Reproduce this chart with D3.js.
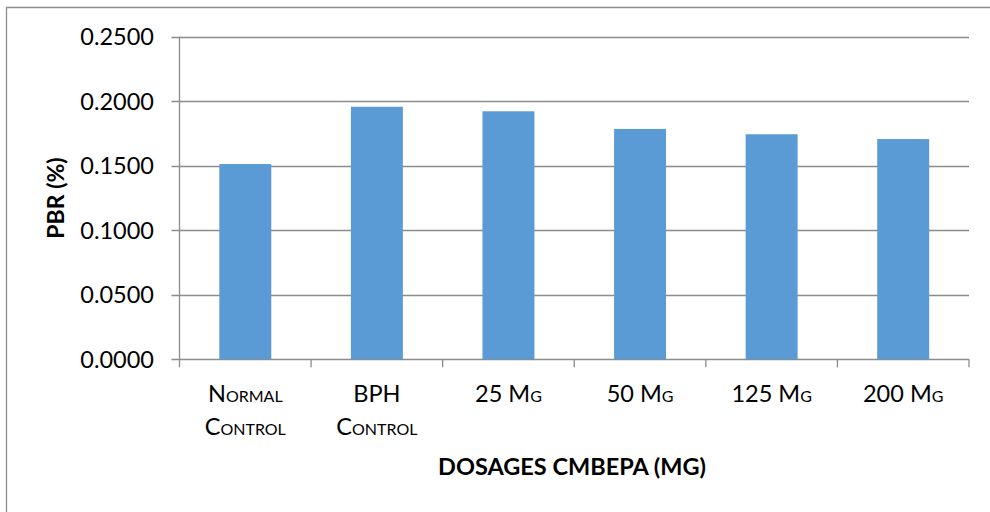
<!DOCTYPE html>
<html>
<head>
<meta charset="utf-8">
<script src="https://d3js.org/d3.v7.min.js"></script>
<style>
  html, body { margin: 0; padding: 0; background: #fff; }
  svg { display: block; font-family: Lato, "Open Sans", sans-serif; }
</style>
</head>
<body>
<svg id="chart" width="990" height="512"></svg>
<script>
// PBR by treatment group
const categories = [["Normal", "Control"], ["BPH", "Control"], ["25 Mg"], ["50 Mg"], ["125 Mg"], ["200 Mg"]];
const values = [0.1513, 0.1957, 0.1922, 0.1785, 0.1744, 0.1707];
const yTicks = [0, 0.05, 0.10, 0.15, 0.20, 0.25];
const xTitle = "DOSAGES CMBEPA (MG)";
const yTitle = "PBR (%)";

(function () {
const svg = d3.select("#chart");
const plotL = 179.5, plotR = 969, plotT = 36.7, plotB = 359.3;

// outer frame (top and left edges visible)
svg.append("path")
  .attr("d", `M6.5,${512 + 2} V7.5 H${990 + 2}`)
  .attr("fill", "none").attr("stroke", "#8c8c8c").attr("stroke-width", 1.3);

const x = d3.scaleBand().domain(d3.range(categories.length))
  .range([plotL, plotR]).paddingInner(0.605).paddingOuter(0.3025);
const y = d3.scaleLinear().domain([0, 0.25]).range([plotB, plotT]);

// horizontal gridlines with outward ticks
svg.append("g").selectAll("line").data(yTicks).join("line")
  .attr("x1", plotL - 8).attr("x2", plotR)
  .attr("y1", d => Math.round(y(d)) + 0.5).attr("y2", d => Math.round(y(d)) + 0.5)
  .attr("stroke", "#8c8c8c").attr("stroke-width", 1.3);

// y tick labels
svg.append("g").selectAll("text").data(yTicks).join("text")
  .attr("x", 154).attr("y", d => y(d))
  .attr("dy", "0.36em")
  .attr("text-anchor", "end")
  .attr("font-size", 23.5).attr("fill", "#000")
  .text(d => d3.format(".4f")(d));

// bars
svg.append("g").selectAll("rect").data(values).join("rect")
  .attr("x", (d, i) => x(i)).attr("width", x.bandwidth())
  .attr("y", d => y(d)).attr("height", d => y(0) - y(d))
  .attr("fill", "#5b9bd5");

// y axis line
svg.append("line")
  .attr("x1", plotL).attr("x2", plotL).attr("y1", plotT).attr("y2", plotB)
  .attr("stroke", "#8c8c8c").attr("stroke-width", 1.3);

// x category boundary ticks
const step = x.step();
svg.append("g").selectAll("line").data(d3.range(categories.length + 1)).join("line")
  .attr("x1", i => plotL + i * step).attr("x2", i => plotL + i * step)
  .attr("y1", plotB).attr("y2", plotB + 8)
  .attr("stroke", "#8c8c8c").attr("stroke-width", 1.3);

// x category labels (small caps)
const lab = svg.append("g").selectAll("text").data(categories).join("text")
  .attr("text-anchor", "middle")
  .attr("font-size", 23.5)
  .attr("font-variant", "small-caps")
  .attr("fill", "#000");
lab.selectAll("tspan").data((d, i) => d.map(t => ({ t, i }))).join("tspan")
  .attr("x", d => x(d.i) + x.bandwidth() / 2)
  .attr("y", (d, j) => 402 + j * 33)
  .text(d => d.t);

// axis titles
svg.append("text")
  .attr("x", 572).attr("y", 475)
  .attr("text-anchor", "middle")
  .attr("font-size", 23.5).attr("font-weight", "bold")
  .text(xTitle);

svg.append("text")
  .attr("transform", `translate(64,${(plotT + plotB) / 2}) rotate(-90)`)
  .attr("text-anchor", "middle")
  .attr("font-size", 23).attr("font-weight", "bold")
  .text(yTitle);
})();
</script>
</body>
</html>
